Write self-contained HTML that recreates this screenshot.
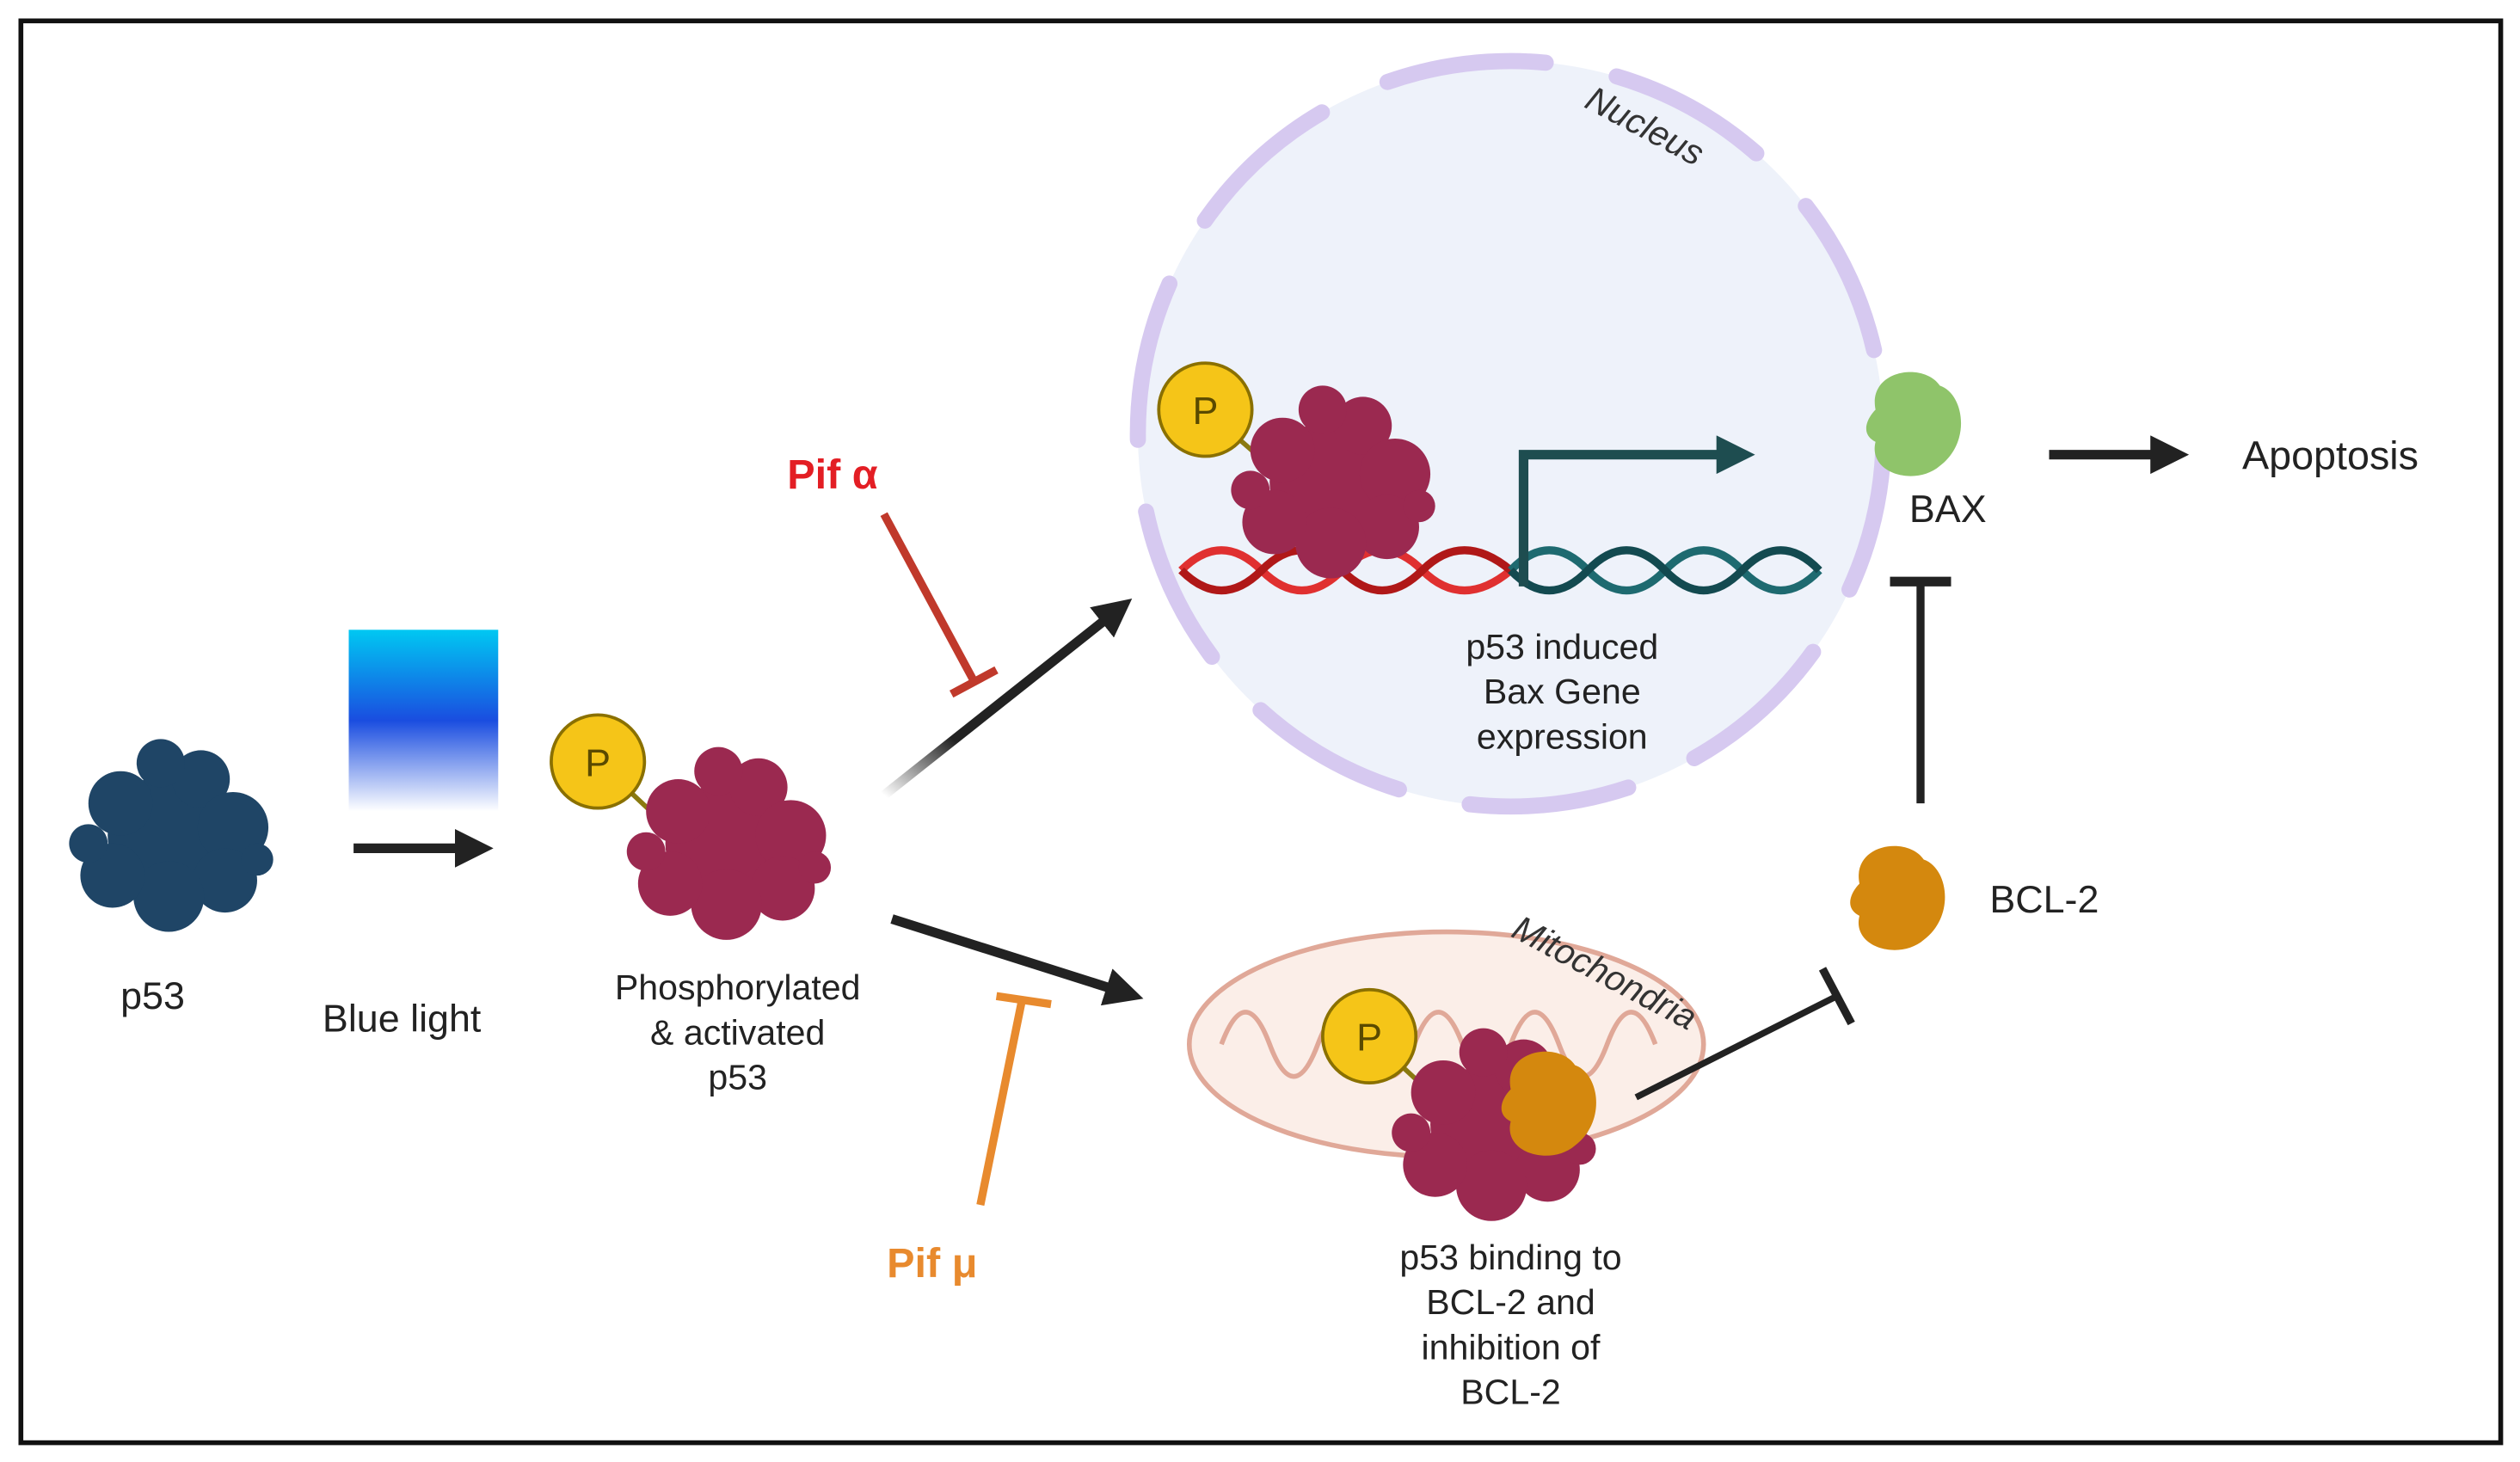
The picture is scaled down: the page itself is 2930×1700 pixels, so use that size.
<!DOCTYPE html>
<html><head><meta charset="utf-8"><style>
html,body{margin:0;padding:0;background:#fff}
svg{display:block}
text{font-family:"Liberation Sans",sans-serif}
</style></head><body>
<svg width="2930" height="1700" viewBox="0 0 1568 910" preserveAspectRatio="none" xmlns="http://www.w3.org/2000/svg">
<defs>
<linearGradient id="bl" x1="0" y1="0" x2="0" y2="1">
<stop offset="0" stop-color="#00c8f2"/><stop offset="0.5" stop-color="#1a4de0"/><stop offset="1" stop-color="#ffffff"/>
</linearGradient>
<linearGradient id="fa1" x1="0" y1="1" x2="1" y2="0"><stop offset="0" stop-color="#222" stop-opacity="0"/><stop offset="0.3" stop-color="#222"/></linearGradient>
<marker id="ah" markerWidth="4" markerHeight="4" refX="2" refY="2" orient="auto" markerUnits="strokeWidth"><path d="M0,0 L4,2 L0,4 z" fill="#222"/></marker>
<marker id="ah2" markerWidth="4" markerHeight="4" refX="2" refY="2" orient="auto" markerUnits="strokeWidth"><path d="M0,0 L4,2 L0,4 z" fill="#1e4d50"/></marker>
<g id="blob">
<circle cx="0" cy="0" r="38"/><circle cx="-30" cy="-20" r="20"/><circle cx="20" cy="-35" r="18"/><circle cx="-5" cy="-45" r="15"/><circle cx="40" cy="-5" r="22"/><circle cx="35" cy="28" r="20"/><circle cx="0" cy="38" r="22"/><circle cx="-35" cy="25" r="20"/><circle cx="-50" cy="5" r="12"/><circle cx="55" cy="15" r="10"/>
</g>
<g id="bean"><path d="M-25,-10 C-30,-35 5,-40 15,-25 C30,-20 35,10 15,25 C0,38 -30,30 -25,10 C-35,5 -30,-5 -25,-10 Z"/></g>
</defs>
<rect x="13" y="13" width="1543" height="885" fill="#fff" stroke="#111" stroke-width="3"/>

<!-- p53 -->
<use href="#blob" x="105" y="520" fill="#1f4566" transform="translate(0,0)"/>
<text x="95" y="628" font-size="24" text-anchor="middle" fill="#222">p53</text>
<rect x="217" y="392" width="93" height="113" fill="url(#bl)"/>
<line x1="220" y1="528" x2="295" y2="528" stroke="#222" stroke-width="6" marker-end="url(#ah)"/>
<text x="250" y="642" font-size="24" text-anchor="middle" fill="#222">Blue light</text>

<!-- phosphorylated p53 -->
<line x1="372" y1="474" x2="405" y2="505" stroke="#8a7a10" stroke-width="3"/>
<use href="#blob" x="452" y="525" fill="#9b2950"/>
<circle cx="372" cy="474" r="29" fill="#f5c518" stroke="#8a7000" stroke-width="2"/>
<text x="372" y="483" font-size="24" text-anchor="middle" fill="#5a4a00">P</text>
<text font-size="22" text-anchor="middle" fill="#222"><tspan x="459" y="622">Phosphorylated</tspan><tspan x="459" y="650">&amp; activated</tspan><tspan x="459" y="678">p53</tspan></text>

<line x1="550" y1="495" x2="695" y2="380" stroke="url(#fa1)" stroke-width="6" marker-end="url(#ah)"/>
<line x1="555" y1="572" x2="700" y2="618" stroke="#222" stroke-width="6" marker-end="url(#ah)"/>

<text x="518" y="304" font-size="26" font-weight="bold" text-anchor="middle" fill="#e31e24">Pif α</text>
<line x1="550" y1="320" x2="606" y2="424" stroke="#c0392b" stroke-width="5"/>
<line x1="592" y1="432" x2="620" y2="417" stroke="#c0392b" stroke-width="5"/>
<text x="580" y="795" font-size="26" font-weight="bold" text-anchor="middle" fill="#e88a2e">Pif μ</text>
<line x1="610" y1="750" x2="636" y2="622" stroke="#e88a2e" stroke-width="5"/>
<line x1="620" y1="620" x2="654" y2="625" stroke="#e88a2e" stroke-width="5"/>

<!-- nucleus -->
<circle cx="940" cy="270" r="232" fill="#eef2fa"/>
<circle cx="940" cy="270" r="232" fill="none" stroke="#d6c9f0" stroke-width="10" stroke-linecap="round" stroke-dasharray="100 45"/>
<text x="1020" y="85" font-size="22" font-style="italic" fill="#333" text-anchor="middle" transform="rotate(28 1020 85)">Nucleus</text>
<path d="M735,355 q25,-25 50,0 t50,0 t50,0 t55,0" fill="none" stroke="#e03030" stroke-width="5"/>
<path d="M735,355 q25,25 50,0 t50,0 t50,0 t55,0" fill="none" stroke="#b01818" stroke-width="5"/>
<path d="M940,355 q24,-25 48,0 t48,0 t48,0 t48,0" fill="none" stroke="#1e6a70" stroke-width="5"/>
<path d="M940,355 q24,25 48,0 t48,0 t48,0 t48,0" fill="none" stroke="#134a50" stroke-width="5"/>
<line x1="750" y1="255" x2="790" y2="290" stroke="#8a7a10" stroke-width="3"/>
<use href="#blob" x="828" y="300" fill="#9b2950"/>
<circle cx="750" cy="255" r="29" fill="#f5c518" stroke="#8a7000" stroke-width="2"/>
<text x="750" y="264" font-size="24" text-anchor="middle" fill="#5a4a00">P</text>
<polyline points="948,365 948,283 1080,283" fill="none" stroke="#1e4d50" stroke-width="6" marker-end="url(#ah2)"/>
<text font-size="22" text-anchor="middle" fill="#222"><tspan x="972" y="410">p53 induced</tspan><tspan x="972" y="438">Bax Gene</tspan><tspan x="972" y="466">expression</tspan></text>

<use href="#bean" x="1192" y="265" fill="#8fc46a" transform="rotate(0)"/>
<text x="1212" y="325" font-size="24" text-anchor="middle" fill="#222">BAX</text>
<line x1="1275" y1="283" x2="1350" y2="283" stroke="#222" stroke-width="6" marker-end="url(#ah)"/>
<text x="1450" y="292" font-size="25" text-anchor="middle" fill="#222">Apoptosis</text>
<line x1="1195" y1="500" x2="1195" y2="362" stroke="#222" stroke-width="5"/>
<line x1="1176" y1="362" x2="1214" y2="362" stroke="#222" stroke-width="6"/>
<use href="#bean" x="1182" y="560" fill="#d4880e"/>
<text x="1272" y="568" font-size="24" text-anchor="middle" fill="#222">BCL-2</text>

<!-- mitochondria -->
<ellipse cx="900" cy="650" rx="160" ry="70" fill="#fbeee8" stroke="#e0a898" stroke-width="3"/>
<path d="M760,650 q15,-40 30,0 t30,0 t30,0 t30,0 t30,0 t30,0 t30,0 t30,0 t30,0" fill="none" stroke="#e0a898" stroke-width="3"/>
<text x="995" y="612" font-size="22" font-style="italic" fill="#333" text-anchor="middle" transform="rotate(28 995 612)">Mitochondria</text>
<line x1="852" y1="645" x2="890" y2="680" stroke="#8a7a10" stroke-width="3"/>
<use href="#blob" x="928" y="700" fill="#9b2950"/>
<use href="#bean" x="965" y="688" fill="#d4880e"/>
<circle cx="852" cy="645" r="29" fill="#f5c518" stroke="#8a7000" stroke-width="2"/>
<text x="852" y="654" font-size="24" text-anchor="middle" fill="#5a4a00">P</text>
<line x1="1018" y1="683" x2="1143" y2="620" stroke="#222" stroke-width="4"/>
<line x1="1134" y1="603" x2="1152" y2="637" stroke="#222" stroke-width="5"/>
<text font-size="22" text-anchor="middle" fill="#222"><tspan x="940" y="790">p53 binding to</tspan><tspan x="940" y="818">BCL-2 and</tspan><tspan x="940" y="846">inhibition of</tspan><tspan x="940" y="874">BCL-2</tspan></text>
</svg>
</body></html>
